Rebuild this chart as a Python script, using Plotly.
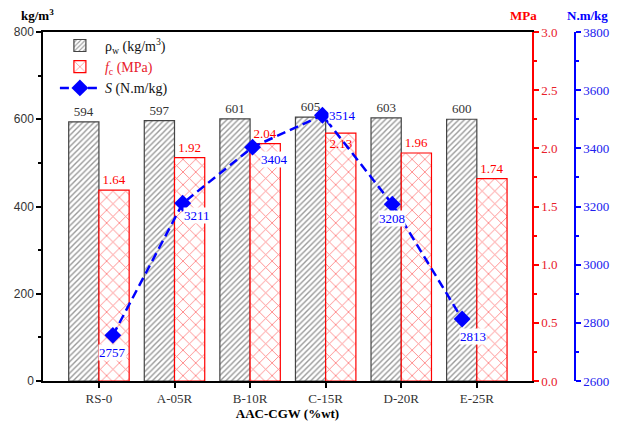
import plotly.graph_objects as go

categories = ["RS-0", "A-05R", "B-10R", "C-15R", "D-20R", "E-25R"]
rho_w = [594, 597, 601, 605, 603, 600]          # kg/m3
f_c = [1.64, 1.92, 2.04, 2.13, 1.96, 1.74]       # MPa
S = [2757, 3211, 3404, 3514, 3208, 2813]         # N.m/kg

SERIF = "Liberation Serif"
RED = "#ff0000"
BLUE = "#0000ff"

fig = go.Figure()

fig.add_trace(go.Bar(
    x=categories, y=rho_w, name="ρ<sub>w</sub> (kg/m<sup>3</sup>)",
    width=0.4, offset=-0.4,
    marker=dict(color="white", line=dict(color="#444444", width=1.2),
                pattern=dict(shape="/", fgcolor="#333333", bgcolor="white", size=4, solidity=0.35)),
    text=rho_w, textposition="outside", cliponaxis=False,
    textfont=dict(family=SERIF, size=13, color="#333333"),
    xaxis="x", yaxis="y",
))

fc_pos = ["outside", "outside", "outside", "inside", "outside", "outside"]
fig.add_trace(go.Bar(
    x=categories, y=f_c, name="<span style='color:#e8202a'><i>f</i><sub>c</sub> (MPa)</span>",
    width=0.4, offset=0.0,
    marker=dict(color="white", line=dict(color=RED, width=1.2),
                pattern=dict(shape="x", fgcolor=RED, bgcolor="white", size=9, solidity=0.18)),
    texttemplate="%{y:.2f}", textposition=fc_pos, insidetextanchor="end",
    cliponaxis=False, constraintext="none",
    textfont=dict(family=SERIF, size=13, color=RED),
    insidetextfont=dict(family=SERIF, size=13, color=RED),
    xaxis="x", yaxis="y2",
))

idx = list(range(len(categories)))
fig.add_trace(go.Scatter(
    x=idx, y=S, name="<i>S</i> (N.m/kg)",
    mode="lines+markers",
    line=dict(color=BLUE, width=2.5, dash="9px,5px"),
    marker=dict(symbol="diamond", size=13, color=BLUE),
    xaxis="x2", yaxis="y3", cliponaxis=False,
))

# S value labels (offsets are styling)
xs = [0, 14, 22, 20, 0, 11]
ys = [-17, -12, -12, 0, -14, -17]
for i, v in enumerate(S):
    fig.add_annotation(x=idx[i], y=v, xref="x2", yref="y3", text=str(v),
                       showarrow=False, xshift=xs[i], yshift=ys[i],
                       bgcolor="white", borderpad=0,
                       font=dict(family=SERIF, size=13, color=BLUE))

D = (532 - 43) / 541
P3 = (575 - 43) / 541

fig.update_layout(
    width=616, height=424,
    margin=dict(l=35, r=40, t=24, b=51, autoexpand=False),
    paper_bgcolor="white", plot_bgcolor="white",
    showlegend=True,
    legend=dict(x=0.022, y=1.006, xanchor="left", yanchor="top",
                bgcolor="rgba(0,0,0,0)", font=dict(family=SERIF, size=14, color="#111111"),
                itemwidth=40, tracegroupgap=0),
    font=dict(family=SERIF, size=12, color="#333333"),
    xaxis=dict(domain=[0, D], type="category", range=[-0.74, 5.73], automargin=False,
               showline=True, linecolor="black", linewidth=1.5, mirror=True,
               ticks="outside", ticklen=5, tickwidth=1.5, tickcolor="black",
               showgrid=False, zeroline=False,
               tickfont=dict(family=SERIF, size=13, color="#333333"),
               title=dict(text="<b>AAC-CGW (%wt)</b>", font=dict(family=SERIF, size=13, color="black"),
                          standoff=1)),
    xaxis2=dict(overlaying="x", anchor="y3", range=[-1, 6], visible=False),
    yaxis=dict(range=[0, 800], dtick=200, showline=True, linecolor="black", linewidth=1.5,
               automargin=False,
               ticks="outside", ticklen=5, tickwidth=1.5, tickcolor="black",
               minor=dict(dtick=100, ticks="outside", ticklen=3, tickcolor="black"),
               showgrid=False, zeroline=False,
               tickfont=dict(family="Liberation Sans", size=12, color="#333333")),
    yaxis2=dict(overlaying="y", side="right", anchor="x", range=[0, 3], dtick=0.5, tickformat=".1f",
                automargin=False,
                showline=True, linecolor=RED, linewidth=1.5,
                ticks="outside", ticklen=5, tickwidth=1.5, tickcolor=RED,
                minor=dict(dtick=0.25, ticks="outside", ticklen=3, tickcolor=RED),
                showgrid=False, zeroline=False,
                tickfont=dict(family=SERIF, size=13, color="#e8202a")),
    yaxis3=dict(overlaying="y", side="right", anchor="free", position=P3, range=[2600, 3800], dtick=200,
                automargin=False,
                showline=True, linecolor=BLUE, linewidth=1.5,
                ticks="outside", ticklen=5, tickwidth=1.5, tickcolor=BLUE,
                minor=dict(dtick=100, ticks="outside", ticklen=3, tickcolor=BLUE),
                showgrid=False, zeroline=False,
                tickfont=dict(family=SERIF, size=13, color="#2020ee")),
)

for tx, px, col in [("<b>kg/m<sup>3</sup></b>", 37, "black"),
                    ("<b>MPa</b>", 523, RED),
                    ("<b>N.m/kg</b>", 587, BLUE)]:
    fig.add_annotation(x=(px - 43) / 541, y=(381 - 15) / 349, xref="paper", yref="paper",
                       xanchor="center", yanchor="middle",
                       text=tx, showarrow=False,
                       font=dict(family=SERIF, size=13, color=col))

fig.write_html("out.html")
